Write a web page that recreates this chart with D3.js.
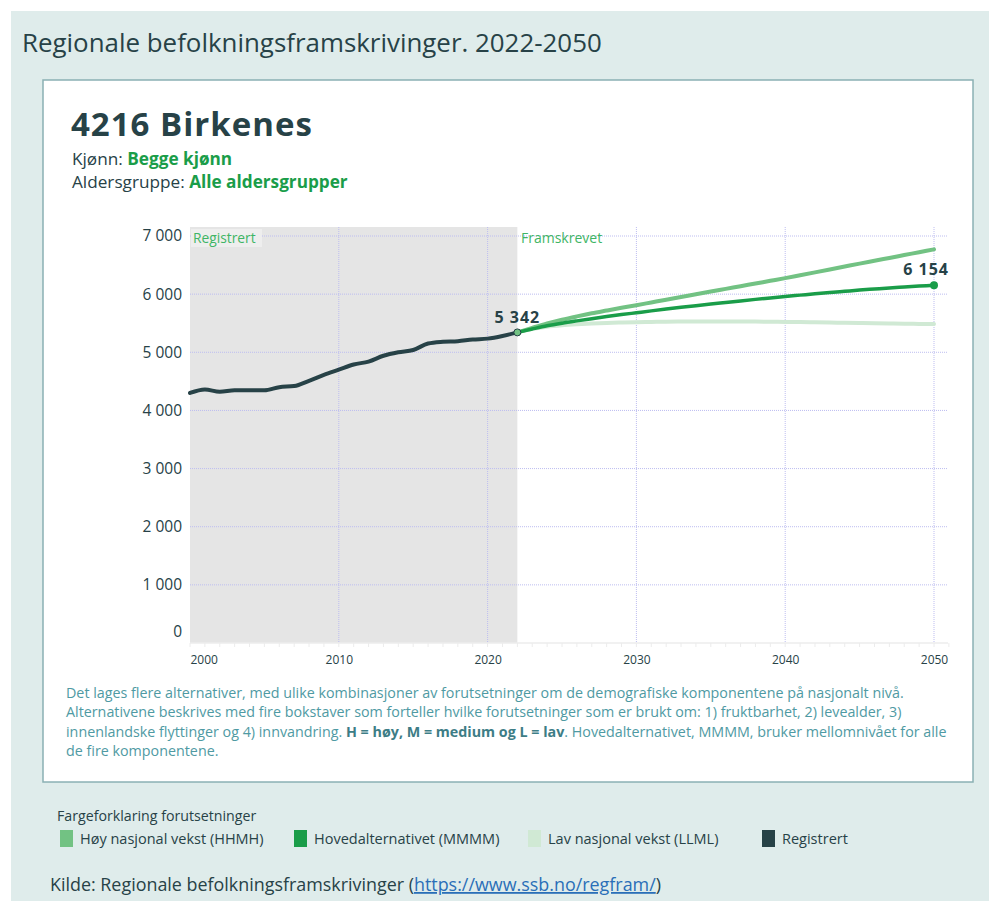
<!DOCTYPE html>
<html>
<head>
<meta charset="utf-8">
<script src="https://cdn.jsdelivr.net/npm/d3@7"></script>
<style>
  html, body { margin: 0; padding: 0; background: #fff; }
  svg { display: block; font-family: "Open Sans", Lato, sans-serif; }
</style>
</head>
<body>
<svg id="chart" width="989" height="901"></svg>
<script>
// ---------- DATA ----------
const registeredYears = d3.range(2000, 2023);
const registeredValues = [4300, 4360, 4320, 4345, 4345, 4345, 4400, 4420, 4510, 4610, 4700, 4790, 4840, 4940, 5000, 5040, 5150, 5180, 5190, 5220, 5235, 5280, 5342];

const projectionYears = d3.range(2022, 2051);
const highValues = [5342, 5420, 5495, 5560, 5617, 5670, 5718, 5765, 5810, 5857, 5904, 5950, 5998, 6045, 6091, 6137, 6183, 6229, 6275, 6325, 6375, 6425, 6475, 6525, 6574, 6623, 6672, 6721, 6770];
const mainValues = [5342, 5400, 5455, 5500, 5540, 5578, 5614, 5648, 5680, 5712, 5743, 5773, 5802, 5830, 5857, 5884, 5910, 5935, 5960, 5983, 6006, 6028, 6049, 6070, 6088, 6106, 6122, 6138, 6154];
const lowValues = [5342, 5400, 5440, 5465, 5482, 5495, 5505, 5512, 5518, 5522, 5526, 5528, 5530, 5531, 5531, 5530, 5528, 5525, 5522, 5519, 5515, 5511, 5507, 5503, 5499, 5495, 5491, 5488, 5485];

const yTicks = [0, 1000, 2000, 3000, 4000, 5000, 6000, 7000];
const xTicks = [2000, 2010, 2020, 2030, 2040, 2050];

const legendLabels = ["Høy nasjonal vekst (HHMH)", "Hovedalternativet (MMMM)", "Lav nasjonal vekst (LLML)", "Registrert"];
const seriesColors = ["#72c283", "#1a9d49", "#d0e9d4", "#274247"];

// ---------- LAYOUT ----------
const svg = d3.select("#chart");
const dark = "#274247";
const green = "#1a9d49";
const lightGreen = "#3fb565";

svg.append("rect").attr("x", 11).attr("y", 11).attr("width", 978).attr("height", 890).attr("fill", "#dfeceb");

svg.append("text").attr("x", 22).attr("y", 52).attr("fill", dark)
  .style("font-size", "25.9px").text("Regionale befolkningsframskrivinger. 2022-2050");

// panel
svg.append("rect").attr("x", 43).attr("y", 80).attr("width", 930).attr("height", 702)
  .attr("fill", "#fff").attr("stroke", "#8bb0b4").attr("stroke-width", 1.5);

svg.append("text").attr("x", 71).attr("y", 136).attr("fill", dark)
  .style("font-size", "33px").style("font-weight", "bold").style("letter-spacing", "1px").text("4216 Birkenes");

const sub1 = svg.append("text").attr("x", 72).attr("y", 165).style("font-size", "17.2px").attr("fill", dark);
sub1.append("tspan").text("Kjønn: ");
sub1.append("tspan").attr("fill", green).style("font-weight", "bold").text("Begge kjønn");
const sub2 = svg.append("text").attr("x", 72).attr("y", 188).style("font-size", "17.2px").attr("fill", dark);
sub2.append("tspan").text("Aldersgruppe: ");
sub2.append("tspan").attr("fill", green).style("font-weight", "bold").text("Alle aldersgrupper");

// scales
const x = d3.scaleLinear().domain([2000, 2050]).range([190, 934]);
const y = d3.scaleLinear().domain([0, 7000]).range([643, 236]);
const plotTop = 227, plotRight = 948;

const g = svg.append("g");

// registered background
g.append("rect").attr("x", x(2000)).attr("y", plotTop).attr("width", x(2022) - x(2000))
  .attr("height", y(0) - plotTop).attr("fill", "#e5e5e5");

// gridlines
g.append("g").selectAll("line").data(yTicks.filter(d => d > 0)).join("line")
  .attr("x1", x(2000)).attr("x2", plotRight).attr("y1", d => y(d)).attr("y2", d => y(d))
  .attr("stroke", "#bdbdf0").attr("stroke-width", 1).attr("stroke-dasharray", "1,1");
g.append("g").selectAll("line").data(xTicks.filter(d => d > 2000)).join("line")
  .attr("x1", d => x(d)).attr("x2", d => x(d)).attr("y1", plotTop).attr("y2", y(0))
  .attr("stroke", "#bdbdf0").attr("stroke-width", 1).attr("stroke-dasharray", "1,1");

// x axis
const xAxis = d3.axisBottom(x).tickValues(xTicks).tickFormat(d3.format("d")).tickSize(0).tickPadding(12);
const xa = g.append("g").attr("transform", `translate(0,${y(0)})`).call(xAxis);
xa.select(".domain").remove();
xa.selectAll("text").attr("fill", dark).style("font-size", "12px").style("font-family", "'Open Sans', sans-serif");
xa.selectAll(".tick").filter(d => d === 2000).select("text").attr("text-anchor", "start");
g.append("line").attr("x1", x(2000)).attr("x2", plotRight).attr("y1", y(0)).attr("y2", y(0))
  .attr("stroke", "#ececec").attr("stroke-width", 1.5);
g.append("g").selectAll("line").data(d3.range(2000, 2052)).join("line")
  .attr("x1", d => x(d)).attr("x2", d => x(d)).attr("y1", y(0)).attr("y2", y(0) + 4)
  .attr("stroke", "#ececec").attr("stroke-width", 1);

// y axis labels
const fmt = d => d3.format(",")(d).replace(/,/g, " ");
const yAxis = d3.axisLeft(y).tickValues(yTicks).tickFormat(fmt).tickSize(0).tickPadding(8);
const ya = g.append("g").attr("transform", `translate(${x(2000)},0)`).call(yAxis);
ya.select(".domain").remove();
ya.selectAll("text").attr("fill", dark).style("font-size", "15.5px").style("font-family", "'Open Sans', sans-serif");
ya.selectAll(".tick").filter(d => d === 0).select("text").attr("dy", "-0.4em");

// section labels
g.append("rect").attr("x", 191).attr("y", 229).attr("width", 71).attr("height", 18).attr("fill", "#eeeeee");
g.append("text").attr("x", 193).attr("y", 243).attr("fill", lightGreen).style("font-size", "13.8px").text("Registrert");
g.append("text").attr("x", 521).attr("y", 243).attr("fill", lightGreen).style("font-size", "14px").text("Framskrevet");

// lines
const line = d3.line().x(d => x(d[0])).y(d => y(d[1])).curve(d3.curveMonotoneX);
const proj = [highValues, mainValues, lowValues];
[2, 0, 1].forEach(i => {
  g.append("path").datum(projectionYears.map((yr, k) => [yr, proj[i][k]]))
    .attr("d", line).attr("fill", "none").attr("stroke", seriesColors[i])
    .attr("stroke-width", i === 1 ? 3.5 : 4).attr("stroke-linecap", "round");
});
g.append("path").datum(registeredYears.map((yr, k) => [yr, registeredValues[k]]))
  .attr("d", line).attr("fill", "none").attr("stroke", seriesColors[3])
  .attr("stroke-width", 4).attr("stroke-linejoin", "round").attr("stroke-linecap", "round");

// end points
const lastReg = registeredValues[registeredValues.length - 1];
g.append("circle").attr("cx", x(2022)).attr("cy", y(lastReg)).attr("r", 3.5)
  .attr("fill", "#72c283").attr("stroke", dark).attr("stroke-width", 1);
const lastMain = mainValues[mainValues.length - 1];
g.append("circle").attr("cx", x(2050)).attr("cy", y(lastMain)).attr("r", 4).attr("fill", green);

g.append("text").attr("x", x(2022)).attr("y", y(lastReg) - 9).attr("text-anchor", "middle")
  .attr("fill", dark).style("font-size", "16px").style("font-weight", "bold").style("letter-spacing", "1px")
  .text(fmt(lastReg));
g.append("text").attr("x", 949).attr("y", y(lastMain) - 10).attr("text-anchor", "end")
  .attr("fill", dark).style("font-size", "16px").style("font-weight", "bold").style("letter-spacing", "1px")
  .text(fmt(lastMain));

// footnote
const noteColor = "#4f9aa3";
const noteLines = [
  [["Det lages flere alternativer, med ulike kombinasjoner av forutsetninger om de demografiske komponentene på nasjonalt nivå.", false]],
  [["Alternativene beskrives med fire bokstaver som forteller hvilke forutsetninger som er brukt om: 1) fruktbarhet, 2) levealder, 3)", false]],
  [["innenlandske flyttinger og 4) innvandring. ", false], ["H = høy, M = medium og L = lav", true], [". Hovedalternativet, MMMM, bruker mellomnivået for alle", false]],
  [["de fire komponentene.", false]]
];
noteLines.forEach((parts, i) => {
  const t = svg.append("text").attr("x", 66).attr("y", 698 + i * 19.3).attr("fill", noteColor).style("font-size", "14.3px");
  parts.forEach(p => {
    const s = t.append("tspan").text(p[0]);
    if (p[1]) s.style("font-weight", "bold").attr("fill", "#3d7d86");
  });
});

// legend
svg.append("text").attr("x", 57).attr("y", 821).attr("fill", dark).style("font-size", "14.2px").text("Fargeforklaring forutsetninger");
const legendX = [60, 294, 528, 762];
legendLabels.forEach((lab, i) => {
  svg.append("rect").attr("x", legendX[i]).attr("y", 830).attr("width", 13).attr("height", 17)
    .attr("fill", seriesColors[i]);
  svg.append("text").attr("x", legendX[i] + 20).attr("y", 844).attr("fill", dark)
    .style("font-size", "14.5px").text(lab);
});

// source
const src = svg.append("text").attr("x", 50).attr("y", 891).attr("fill", dark).style("font-size", "17.9px");
src.append("tspan").text("Kilde: Regionale befolkningsframskrivinger (");
src.append("tspan").attr("fill", "#2a6fb8").style("text-decoration", "underline").text("https://www.ssb.no/regfram/");
src.append("tspan").text(")");
</script>
</body>
</html>
